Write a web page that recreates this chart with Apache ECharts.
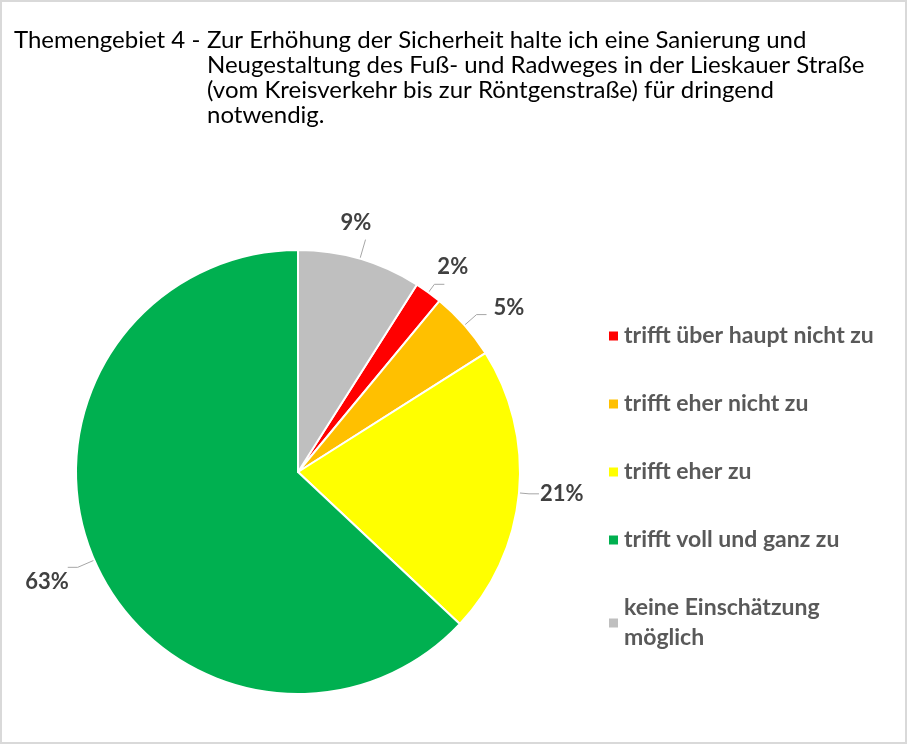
<!DOCTYPE html>
<html>
<head>
<meta charset="utf-8">
<script src="https://cdn.jsdelivr.net/npm/echarts@6/dist/echarts.min.js"></script>
<style>
  html, body { margin: 0; padding: 0; background: #fff; }
  #chart { width: 907px; height: 744px; box-sizing: border-box; border: 2px solid #d9d9d9; }
</style>
</head>
<body>
<div id="chart"></div>
<script>
// Antworten in der Reihenfolge der Legende
var kategorien = ['trifft über haupt nicht zu', 'trifft eher nicht zu', 'trifft eher zu', 'trifft voll und ganz zu', 'keine Einschätzung\nmöglich'];
var anteile = [2, 5, 21, 63, 9];
var farben = ['#ff0000', '#ffc000', '#ffff00', '#00b050', '#bfbfbf'];
// Leader-Linien je Segment: [length, length2]
var linien = [[10, 10], [16, 10], [10, 10], [18, 10], [20, 0]];
// kleine Verschiebung der Beschriftungen: [dx, dy]
var verschiebung = [[-12, -17], [2, -7], [-4, 0], [6, 15], [-30, -17]];

var chart = echarts.init(document.getElementById('chart'));

var daten = kategorien.map(function(name, i) {
    return {
        name: name,
        value: anteile[i],
        itemStyle: { color: farben[i] },
        labelLine: { length: linien[i][0], length2: linien[i][1] }
    };
});

chart.setOption({
    textStyle: { fontFamily: 'Lato' },
    title: [{
        text: 'Themengebiet 4 -',
        left: 7,
        top: 21,
        textStyle: { fontFamily: 'Lato', fontSize: 24, fontWeight: 'normal', color: '#000', lineHeight: 25 }
    }, {
        text: 'Zur Erhöhung der Sicherheit halte ich eine Sanierung und\nNeugestaltung des Fuß- und Radweges in der Lieskauer Straße\n(vom Kreisverkehr bis zur Röntgenstraße) für dringend\nnotwendig.',
        left: 200,
        top: 21,
        textStyle: { fontFamily: 'Lato', fontSize: 24, fontWeight: 'normal', color: '#000', lineHeight: 25 }
    }],
    legend: {
        orient: 'vertical',
        left: 600,
        top: 314,
        itemWidth: 11,
        itemHeight: 11,
        itemGap: 38,
        icon: 'rect',
        textStyle: { fontFamily: 'Lato', fontSize: 23, fontWeight: 'bold', color: '#595959', lineHeight: 30 },
        data: kategorien
    },
    series: [{
        type: 'pie',
        center: [296, 470],
        radius: 222,
        startAngle: 90 - 32.4,
        clockwise: true,
        avoidLabelOverlap: false,
        itemStyle: { borderColor: '#fff', borderWidth: 2 },
        label: {
            show: true,
            position: 'outside',
            formatter: '{c}%',
            fontFamily: 'Lato',
            fontSize: 22,
            fontWeight: 'bold',
            color: '#404040'
        },
        labelLine: { show: true, lineStyle: { color: '#a6a6a6', width: 1 } },
        labelLayout: function(params) {
            var v = verschiebung[params.dataIndex];
            return { dx: v[0], dy: v[1] };
        },
        emphasis: { disabled: true },
        data: daten
    }]
});

window.onresize = function() {
    chart.resize();
};
</script>
</body>
</html>
